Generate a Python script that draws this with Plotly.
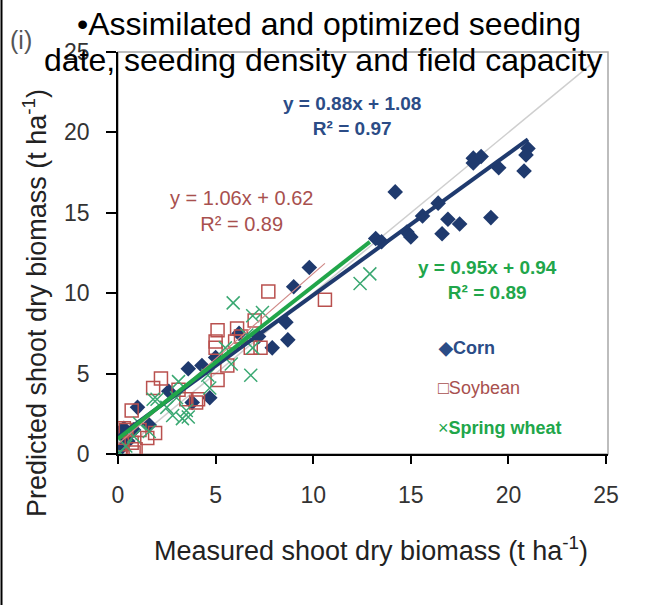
import plotly.graph_objects as go

# Measured vs. predicted shoot dry biomass (t/ha) for three crops
corn_x = [14.2, 18.2, 18.6, 18.2, 19.5, 20.8, 21.0, 20.9, 19.1, 17.5, 16.9, 16.6,
          16.4, 15.6, 14.8, 15.0, 13.2, 13.5, 9.8, 9.0, 8.6, 8.7, 7.9, 7.2, 6.2,
          5.0, 4.3, 3.6, 4.7, 3.8, 2.6, 1.0, 0.3, 0.2, 0.1, 0.5, 1.6, 0.8]
corn_y = [16.3, 18.4, 18.5, 18.1, 17.8, 17.6, 19.0, 18.6, 14.7, 14.3, 14.6, 13.7,
          15.6, 14.8, 13.8, 13.5, 13.4, 13.2, 11.6, 10.4, 8.2, 7.1, 6.6, 7.3, 7.5,
          6.0, 5.5, 5.3, 3.5, 3.2, 3.9, 2.9, 1.6, 1.2, 0.3, 0.8, 1.8, 1.5]

soy_x = [7.7, 10.6, 7.0, 6.1, 5.1, 5.0, 5.0, 7.3, 6.8, 5.6, 5.1, 4.1, 3.5, 3.1,
         2.2, 1.8, 1.9, 0.7, 1.1, 0.7, 0.8, 0.3, 0.1, 4.0, 6.3, 1.5, 0.4, 0.9,
         0.2, 6.0]
soy_y = [10.1, 9.6, 8.3, 7.8, 7.7, 7.0, 6.6, 6.6, 6.6, 5.5, 4.6, 3.4, 3.4, 4.0,
         4.7, 4.1, 1.3, 2.7, 1.5, 0.7, 0.1, 1.6, 0.2, 3.2, 7.3, 1.0, 1.5, 0.3,
         0.6, 7.0]

wheat_x = [5.9, 6.8, 6.9, 7.4, 6.9, 5.5, 3.6, 2.8, 3.1, 2.0, 3.0, 4.7, 1.6, 0.8,
           0.1, 1.1, 12.4, 12.9, 2.5, 3.5, 3.3, 1.8, 5.8, 6.6, 0.4, 4.6]
wheat_y = [9.4, 4.9, 8.6, 8.8, 6.6, 6.6, 2.3, 2.4, 4.5, 3.4, 3.5, 4.1, 1.4, 1.1,
           0.1, 1.9, 10.6, 11.2, 2.9, 2.7, 2.2, 3.4, 5.6, 7.4, 0.5, 4.9]

# Linear fits: slope, intercept, R², x-extent of the fitted line
corn_fit = (0.88, 1.08, 0.97, 21.0)
soy_fit = (1.06, 0.62, 0.89, 10.6)
wheat_fit = (0.95, 0.94, 0.89, 12.9)

x_ticks = [0, 5, 10, 15, 20, 25]
y_ticks = [0, 5, 10, 15, 20, 25]

NAVY = "#1f3a6e"
NAVY_TXT = "#2b4c86"
SOY = "#b9504e"
SOY_TXT = "#a8504e"
SOY_LINE = "#cf8886"
GREEN = "#21a64a"
GREEN_X = "#3aa872"
FONT = "Liberation Sans, Arial, sans-serif"

# Plot area in pixels
W, H = 654, 605
L, R, T, B = 118, 46, 52, 151
PW, PH = W - L - R, H - T - B


def px_x(p):
    return (p - L) / PW


def px_y(p):
    return (H - B - p) / PH


def fit_line(fit):
    m, c, _, xmax = fit
    return [0, xmax], [c, m * xmax + c]


def eq_text(fit):
    m, c, r2, _ = fit
    return f"y = {m:.2f}x + {c:.2f}<br>R² = {r2:.2f}"


fig = go.Figure()

# 1:1 reference line
fig.add_trace(go.Scatter(x=[0, 24.4], y=[0, 24.4], mode="lines",
                         line=dict(color="#cfcfcf", width=1.5),
                         hoverinfo="skip", showlegend=False))

fig.add_trace(go.Scatter(x=corn_x, y=corn_y, mode="markers", name="Corn",
                         marker=dict(symbol="diamond", size=12, color=NAVY,
                                     line=dict(width=0))))
fig.add_trace(go.Scatter(x=soy_x, y=soy_y, mode="markers", name="Soybean",
                         marker=dict(symbol="square-open", size=13, color=SOY,
                                     line=dict(width=1.5, color=SOY))))
fig.add_trace(go.Scatter(x=wheat_x, y=wheat_y, mode="markers", name="Spring wheat",
                         marker=dict(symbol="x-thin-open", size=13, color=GREEN_X,
                                     line=dict(width=1.5, color=GREEN_X))))

# Regression lines
sx, sy = fit_line(soy_fit)
fig.add_trace(go.Scatter(x=sx, y=sy, mode="lines", line=dict(color=SOY_LINE, width=1.2),
                         hoverinfo="skip", showlegend=False))
cx, cy = fit_line(corn_fit)
fig.add_trace(go.Scatter(x=cx, y=cy, mode="lines", line=dict(color=NAVY, width=4),
                         hoverinfo="skip", showlegend=False))
wx, wy = fit_line(wheat_fit)
fig.add_trace(go.Scatter(x=wx, y=wy, mode="lines", line=dict(color=GREEN, width=4),
                         hoverinfo="skip", showlegend=False))

annotations = [
    # Title, two lines
    dict(text="•Assimilated and optimized seeding", x=px_x(329), y=px_y(24),
         font=dict(size=32, color="#000000", family=FONT)),
    dict(text="date, seeding density and field capacity", x=px_x(323), y=px_y(60),
         font=dict(size=32, color="#000000", family=FONT)),
    dict(text="(i)", x=px_x(21), y=px_y(40),
         font=dict(size=25, color="#555555", family=FONT)),
    # Axis titles
    dict(text="Measured shoot dry biomass (t ha<sup>-1</sup>)", x=px_x(371), y=px_y(549),
         font=dict(size=27, color="#222222", family=FONT)),
    dict(text="Predicted shoot dry biomass (t ha<sup>-1</sup>)", x=px_x(35), y=px_y(303),
         textangle=-90, font=dict(size=27, color="#222222", family=FONT)),
    # Fit equations
    dict(text="<b>" + eq_text(corn_fit) + "</b>", x=px_x(352), y=px_y(116),
         font=dict(size=19, color=NAVY_TXT, family=FONT)),
    dict(text=eq_text(soy_fit), x=px_x(241), y=px_y(211),
         font=dict(size=20, color=SOY_TXT, family=FONT)),
    dict(text="<b>" + eq_text(wheat_fit) + "</b>", x=px_x(487), y=px_y(280),
         font=dict(size=19, color=GREEN, family=FONT)),
    # Series key
    dict(text="<b>◆Corn</b>", x=px_x(436), y=px_y(348), xanchor="left",
         font=dict(size=18, color=NAVY_TXT, family=FONT)),
    dict(text="□Soybean", x=px_x(436), y=px_y(388), xanchor="left",
         font=dict(size=18, color=SOY_TXT, family=FONT)),
    dict(text="×<b>Spring wheat</b>", x=px_x(436), y=px_y(428), xanchor="left",
         font=dict(size=18, color=GREEN, family=FONT)),
]
for a in annotations:
    a.setdefault("xref", "paper")
    a.setdefault("yref", "paper")
    a.setdefault("showarrow", False)
    a.setdefault("xanchor", "center")
    a.setdefault("yanchor", "middle")

fig.update_layout(
    width=W, height=H,
    margin=dict(l=L, r=R, t=T, b=B, pad=0),
    paper_bgcolor="white", plot_bgcolor="white",
    showlegend=False,
    annotations=annotations,
    shapes=[
        # light frame around the plot area
        dict(type="rect", xref="paper", yref="paper", x0=0, x1=1, y0=0, y1=1,
             line=dict(color="#a8a8a8", width=1.5), layer="below"),
        # panel edge on the left
        dict(type="line", xref="paper", yref="paper", x0=px_x(1.5), x1=px_x(1.5),
             y0=px_y(0), y1=px_y(H), line=dict(color="#000000", width=2)),
    ],
    font=dict(family=FONT),
)
fig.update_xaxes(range=[0, 25.1], tickvals=x_ticks, showgrid=False, zeroline=False,
                 showline=True, linecolor="#000000", linewidth=1.5,
                 ticks="outside", ticklen=8, tickwidth=1.5, tickcolor="#000000",
                 ticklabelstandoff=12,
                 tickfont=dict(size=23, color="#333333", family=FONT))
fig.update_yaxes(range=[0, 25], tickvals=y_ticks, showgrid=False, zeroline=False,
                 showline=True, linecolor="#000000", linewidth=1.5,
                 ticks="outside", ticklen=10, tickwidth=1.5, tickcolor="#000000",
                 ticklabelstandoff=12,
                 tickfont=dict(size=23, color="#333333", family=FONT))

fig.write_html("out.html")
